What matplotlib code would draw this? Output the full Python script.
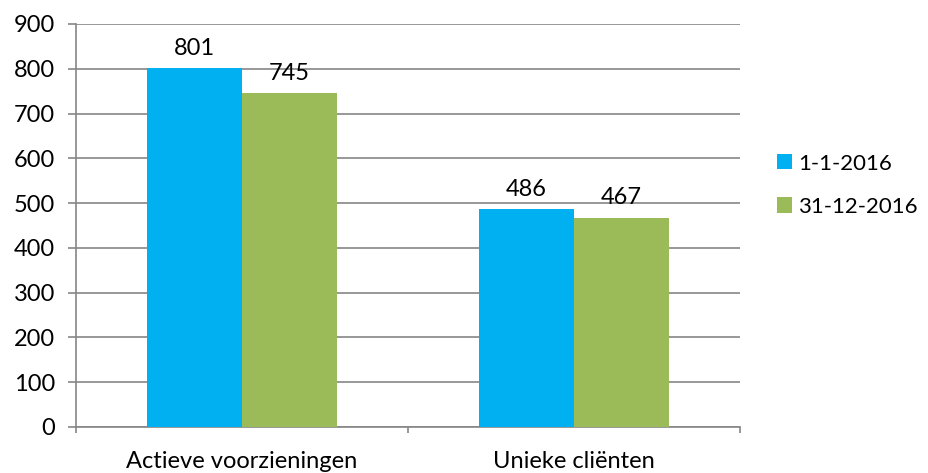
import matplotlib.pyplot as plt
import numpy as np

# data
categories = ['Actieve voorzieningen', 'Unieke cliënten']
series_names = ['1-1-2016', '31-12-2016']
begin_values = [801, 486]
end_values = [745, 467]

blue = '#00B0F0'
green = '#9BBB59'
grid = '#868686'
fs = 17

plt.rcParams['font.family'] = ['Lato', 'DejaVu Sans']

fig = plt.figure(figsize=(9.29, 4.73), dpi=100)
ax = fig.add_axes([0.0818, 0.0973, 0.7148, 0.852])

x = np.arange(len(categories))
w = 0.286
b1 = ax.bar(x - w / 2, begin_values, w, color=blue, label=series_names[0], zorder=3)
b2 = ax.bar(x + w / 2, end_values, w, color=green, label=series_names[1], zorder=3)

for bars, vals in ((b1, begin_values), (b2, end_values)):
    for r, v in zip(bars, vals):
        ax.annotate(str(v), (r.get_x() + r.get_width() / 2, v), xytext=(0, 7),
                    textcoords='offset points', ha='center', va='bottom', fontsize=fs)

ax.set_xlim(-0.5, 1.5)
ax.set_ylim(0, 900)
ax.set_yticks(range(0, 901, 100))
ax.yaxis.grid(True, color=grid, linewidth=1.2, zorder=0)
ax.tick_params(axis='y', length=6, color=grid, width=1.2, labelsize=fs, pad=9)

ax.set_xticks(x)
ax.set_xticklabels(categories, fontsize=fs)
ax.set_xticks([-0.5, 0.5, 1.5], minor=True)
ax.tick_params(axis='x', which='major', length=0, pad=17)
ax.tick_params(axis='x', which='minor', length=4.5, color=grid, width=1.2)

for s in ['top', 'right']:
    ax.spines[s].set_visible(False)
for s in ['left', 'bottom']:
    ax.spines[s].set_color(grid)
    ax.spines[s].set_linewidth(1.2)

ax.legend(loc='center left', bbox_to_anchor=(1.025, 0.60), frameon=False, fontsize=16,
          handlelength=0.68, handleheight=0.68, handletextpad=0.3, labelspacing=1.05)

fig.savefig('out.png', dpi=100)
